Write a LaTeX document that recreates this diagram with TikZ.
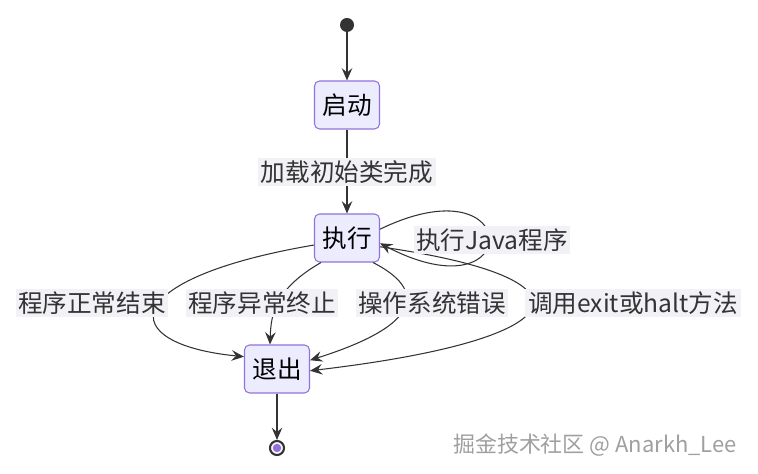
\documentclass[tikz,border=0pt]{standalone}
\usepackage{fontspec}
\setmainfont{Noto Sans CJK SC}
\usepackage{tikz}
\usetikzlibrary{arrows.meta}
\definecolor{boxfill}{HTML}{ECECFF}
\definecolor{boxline}{HTML}{9370DB}
\definecolor{ink}{HTML}{333333}
\definecolor{lblfill}{HTML}{F2F2F6}
\tikzset{state/.style = {shape = rectangle, rounded corners = 0.1cm, draw = boxline, fill = boxfill, line width = 0.6pt, minimum width = 1.3cm, minimum height = 0.96cm, text = black, font = \fontsize{14}{16}\selectfont}}
\tikzset{edge/.style = {draw = ink, line width = 0.6pt, -{Stealth[length = 7pt, width = 6pt, inset = 2.5pt]}}}
\tikzset{elabel/.style = {fill = lblfill, inner sep = 1.5pt, text = ink, font = \fontsize{14}{16}\selectfont}}

\begin{document}
\begin{tikzpicture}
				\useasboundingbox (0, 0) rectangle (15.16, 9.48);

				\node[circle, fill = ink, inner sep = 0, minimum size = 0.28cm] (s) at (6.94, 8.98) {};
				\node[state] (a) at (6.94, 7.38) {启动};
				\node[state] (b) at (6.94, 4.72) {执行};
				\node[state] (c) at (5.54, 2.10) {退出};
				\node[circle, draw = ink, line width = 1.2pt, fill = white, inner sep = 0, minimum size = 0.28cm] (f) at (5.54, 0.52) {};
				\node[circle, fill = boxline, inner sep = 0, minimum size = 0.17cm] at (f) {};

				\draw[edge] (s) to (a);
				\draw[edge] (a) to (b);
				\draw[edge] ([yshift = 5pt]b.east) .. controls (10.5, 6.3) and (10.5, 3.1) .. ([yshift = -3pt]b.east);
				\draw[edge] ([yshift = -4pt]b.west) .. controls (2.3, 3.9) and (2.3, 2.6) .. ([yshift = 7pt]c.west);
				\draw[edge] ([xshift = 4pt]b.south west) .. controls (5.5, 3.7) and (5.42, 3.2) .. ([xshift = -4pt]c.north);
				\draw[edge] ([xshift = -4pt]b.south east) .. controls (8.5, 3.7) and (8.5, 3.0) .. ([yshift = 5pt]c.east);
				\draw[edge] ([yshift = -5pt]b.east) .. controls (12.1, 3.9) and (11.6, 2.7) .. ([yshift = -1pt]c.east);
				\draw[edge] (c) to (f);

				\node[elabel] (l0) at (6.94, 6.04) {加载初始类完成};
				\node[elabel] (l5) at (9.84, 4.68) {执行Java程序};
				\node[elabel] (l1) at (1.84, 3.42) {程序正常结束};
				\node[elabel] (l2) at (5.24, 3.42) {程序异常终止};
				\node[elabel] (l3) at (8.64, 3.42) {操作系统错误};
				\node[elabel] (l4) at (12.66, 3.42) {调用exit或halt方法};

				\node[text = gray!75, font = \fontsize{12.5}{14}\selectfont] (w) at (11.9, 0.58) {掘金技术社区 @ Anarkh\_Lee};
			\end{tikzpicture}
\end{document}
